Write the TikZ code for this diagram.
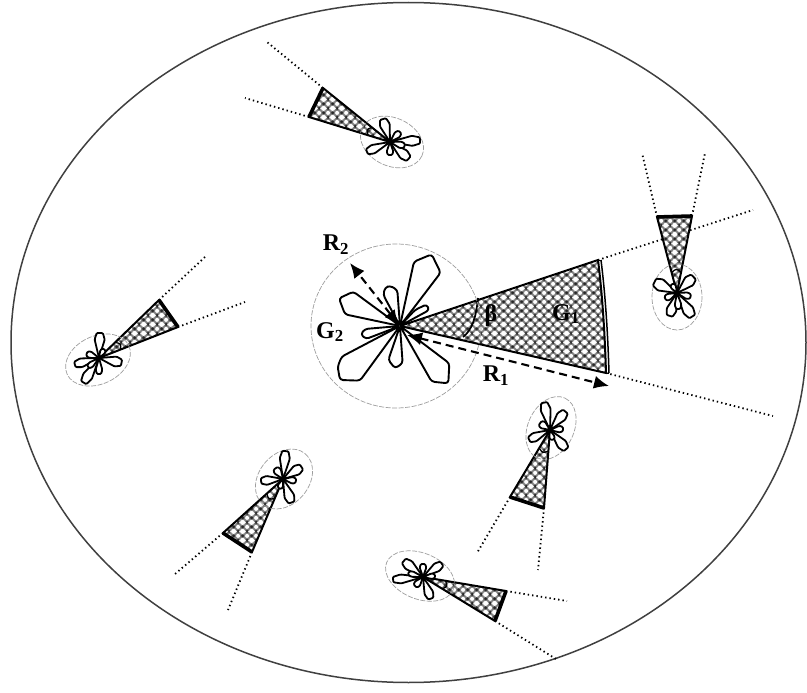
\documentclass[tikz,border=0pt]{standalone}
\usepackage{fontspec}
\setmainfont{Liberation Serif}
\usetikzlibrary{patterns,arrows.meta,calc}
\pgfdeclarepatterninherentlycolored{cellmesh}{\pgfpointorigin}{\pgfqpoint{9pt}{9pt}}{\pgfqpoint{9pt}{9pt}}{%
  \pgfsetfillcolor{black!50}%
  \pgfpathrectangle{\pgfpointorigin}{\pgfqpoint{9pt}{9pt}}\pgfusepath{fill}%
  \pgfsetfillcolor{white}%
  \pgfpathcircle{\pgfqpoint{4.5pt}{4.5pt}}{2.2pt}\pgfusepath{fill}%
  \pgfpathcircle{\pgfqpoint{0pt}{0pt}}{2.2pt}\pgfusepath{fill}%
  \pgfpathcircle{\pgfqpoint{9pt}{0pt}}{2.2pt}\pgfusepath{fill}%
  \pgfpathcircle{\pgfqpoint{0pt}{9pt}}{2.2pt}\pgfusepath{fill}%
  \pgfpathcircle{\pgfqpoint{9pt}{9pt}}{2.2pt}\pgfusepath{fill}%
  \pgfsetfillcolor{black!85}%
  \pgfpathcircle{\pgfqpoint{4.5pt}{0pt}}{1.3pt}\pgfusepath{fill}%
  \pgfpathcircle{\pgfqpoint{4.5pt}{9pt}}{1.3pt}\pgfusepath{fill}%
  \pgfpathcircle{\pgfqpoint{0pt}{4.5pt}}{1.3pt}\pgfusepath{fill}%
  \pgfpathcircle{\pgfqpoint{9pt}{4.5pt}}{1.3pt}\pgfusepath{fill}%
}
\tikzset{
  cell/.style={line width=1.8pt,line join=round,rounded corners=1pt,draw=black,fill=white},
  mainlobe/.style={line width=1.9pt,line join=round,rounded corners=3pt,draw=black,fill=white},
  ray/.style={line width=1.8pt,dash pattern=on 1.4pt off 3pt,draw=black},
  edgeline/.style={line width=2pt,draw=black,line join=round,pattern=cellmesh},
  beam/.style={line width=3.6pt,draw=black},
  zone/.style={line width=.7pt,draw=black!38,dash pattern=on 5pt off 1.5pt},
  lab/.style={font=\bfseries\fontsize{24}{24}\selectfont,inner sep=0pt},
  rng/.style={line width=2.1pt,draw=black,dash pattern=on 8pt off 5pt}
}
% rotation, length, width
\newcommand{\lobe}[3]{\path[cell,rotate=#1] (0,0) -- (.74*#2,.56*#3) -- (#2,.34*#3) -- (#2,-.34*#3) -- (.74*#2,-.56*#3) -- cycle;}
% apex x,y ; corner1 ; corner2 ; ray end 1 ; ray end 2
\newcommand{\sector}[5]{%
  \coordinate (ap) at (#1); \coordinate (ca) at (#2); \coordinate (cb) at (#3);
  \coordinate (ra) at (#4); \coordinate (rb) at (#5);
  \draw[ray] (ca) -- (ra);
  \draw[ray] (cb) -- (rb);
  \path[edgeline] (ap) -- (ca) -- (cb) -- cycle;
  \draw[beam] (ca) -- (cb);
  \draw[line width=1.3pt] ($(ap)!.27!(ca)$) .. controls ($(ap)!.32!($(ca)!.5!(cb)$)$) .. ($(ap)!.27!(cb)$);
}
\newcommand{\lobes}[2]{\begin{scope}[shift={(#1)}]\foreach \a/\l/\w in {#2}{\lobe{\a}{\l}{\w}}\end{scope}}
\begin{document}
\begin{tikzpicture}[x=1pt,y=-1pt]
\useasboundingbox (0,0) rectangle (807,693);
\fill[white] (0,0) rectangle (807,693);
\draw[line width=1.5pt,draw=black!75] (408.5,342.5) ellipse [x radius=397.5,y radius=340];

% main sector rays
\coordinate (mApex) at (400,326);
\coordinate (mA) at (598,260);
\coordinate (mB) at (606,373);
\coordinate (mRa) at (753,210);
\coordinate (mRb) at (773,416);
\draw[ray] (mA) -- (mRa);
\draw[ray] (mB) -- (mRb);
\path[edgeline] (mApex) -- (mA) .. controls (603,300) and (605,340) .. (mB) -- cycle;
\draw[line width=1.5pt] (601,260) .. controls (606,300) and (608,340) .. (609,373);
\draw[line width=1pt] (601,260) -- (598,260) (609,373) -- (606,373);
\draw[line width=1.7pt] (478,298) .. controls (476,318) and (472,330) .. (463,337);

% small sectors
\sector{390,142}{323,88}{309,117}{267,42}{245,98}
\sector{677,293}{657,217}{692,216}{642,153}{705,153}
\sector{99,358}{159,300}{178,327}{205,257}{245,302}
\sector{283,479}{223,533}{252,552}{175,574}{228,610}
\sector{550,430}{510,497}{544,508}{477,553}{538,570}
\sector{423,577}{506,591}{495,621}{567,601}{556,659}

% coverage zones
\draw[zone] (396,326) ellipse [x radius=85,y radius=82];
\draw[zone,rotate around={-25:(392,142)}] (392,142) ellipse [x radius=33,y radius=24];
\draw[zone] (677,297) ellipse [x radius=25,y radius=33];
\draw[zone,rotate around={25:(98,360)}] (98,360) ellipse [x radius=34,y radius=24];
\draw[zone,rotate around={50:(284,479)}] (284,479) ellipse [x radius=33,y radius=25];
\draw[zone,rotate around={65:(551,428)}] (551,428) ellipse [x radius=33,y radius=23];
\draw[zone,rotate around={-22:(420,576)}] (420,576) ellipse [x radius=36,y radius=23];

% small lobes
\lobes{390,142}{107/24/9,3/30/9,-42/25/9,-90/13/6,203/25/8,45/14/6,-15/15/6}
\lobes{677,293}{154/25/11,44/23/10,-57/28/10,-108/24/9,-85/16/6,-15/14/6,205/13/6,120/10/5}
\lobes{99,358}{88/25/9,195/25/8,238/29/9,-90/16/6,-12/23/9,60/10/5,160/13/6,220/14/5}
\lobes{283,479}{85/28/9,33/22/9,-8/13/6,-70/25/9,185/22/8,125/13/7,250/10/5}
\lobes{550,430}{102/28/9,50/24/9,5/13/6,-50/25/9,205/23/8,145/12/7,-75/10/5}
\lobes{423,577}{140/25/9,35/23/8,90/13/6,5/12/5,-70/23/8,185/30/8,165/15/5,230/12/6}

% main lobes
\begin{scope}[shift={(290,220)},x=.3333pt,y=-.3333pt]
\coordinate (c) at (330,318);
\path[mainlobe] (c) -- (372,125) -- (425,103) -- (452,158) -- cycle;
\path[mainlobe] (c) -- (280,225) -- (285,203) -- (300,197) -- (322,210) -- cycle;
\path[mainlobe] (c) -- (165,283) -- (147,235) -- (190,215) -- cycle;
\path[mainlobe] (c) -- (375,270) -- (410,253) -- (418,270) -- cycle;
\path[mainlobe] (c) -- (225,327) -- (212,343) -- (228,357) -- cycle;
\path[mainlobe] (c) -- (155,410) -- (143,440) -- (150,480) -- (210,482) -- cycle;
\path[mainlobe] (c) -- (295,420) -- (315,445) -- (338,430) -- cycle;
\path[mainlobe] (c) -- (425,485) -- (475,490) -- (478,430) -- cycle;
\end{scope}

% range arrows
\coordinate (r1a) at (407,335);
\coordinate (r1b) at (609,386);
\coordinate (r2a) at (399,325);
\coordinate (r2b) at (350,263);
\draw[rng,{Latex[length=15pt,width=13pt]}-{Latex[length=15pt,width=13pt]}] (r1a) -- (r1b);
\draw[rng,{Latex[length=15pt,width=13pt]}-{Latex[length=15pt,width=13pt]}] (r2a) -- (r2b);

% labels
\node[lab] (lr2) at (336,245) {R\textsubscript{2}};
\node[lab] (lg2) at (330,332) {G\textsubscript{2}};
\node[lab] (lb) at (491,316) {β};
\node[lab] (lg1) at (566,314) {G\textsubscript{1}};
\node[lab] (lr1) at (496,376) {R\textsubscript{1}};
\end{tikzpicture}
\end{document}
